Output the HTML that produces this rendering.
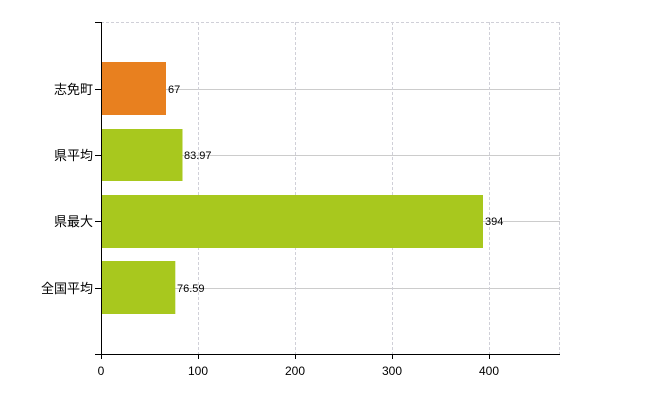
<!DOCTYPE html><html><head><style>body{margin:0;background:#fff;width:650px;height:400px;overflow:hidden;font-family:"Liberation Sans","Noto Sans CJK JP",sans-serif}</style></head><body>
<svg width="650" height="400" xmlns="http://www.w3.org/2000/svg">
<g stroke="#d0d0d8" stroke-width="1">
<line x1="101" y1="22.5" x2="560" y2="22.5" stroke-dasharray="3,2"/>
<line x1="101" y1="89.5" x2="560" y2="89.5" stroke="#ccc"/>
<line x1="101" y1="155.5" x2="560" y2="155.5" stroke="#ccc"/>
<line x1="101" y1="221.5" x2="560" y2="221.5" stroke="#ccc"/>
<line x1="101" y1="288.5" x2="560" y2="288.5" stroke="#ccc"/>
<line x1="198.5" y1="22" x2="198.5" y2="354" stroke-dasharray="3,2"/>
<line x1="295.5" y1="22" x2="295.5" y2="354" stroke-dasharray="3,2"/>
<line x1="392.5" y1="22" x2="392.5" y2="354" stroke-dasharray="3,2"/>
<line x1="489.5" y1="22" x2="489.5" y2="354" stroke-dasharray="3,2"/>
<line x1="559.5" y1="22" x2="559.5" y2="354" stroke-dasharray="3,2"/>
</g>
<rect x="101" y="62" width="65" height="53" fill="#e8801f"/>
<rect x="101" y="129" width="81.5" height="52" fill="#a8c81e"/>
<rect x="101" y="195" width="382" height="53" fill="#a8c81e"/>
<rect x="101" y="261" width="74.3" height="53" fill="#a8c81e"/>
<g font-size="11" fill="#000">
<text x="168" y="93">67</text>
<text x="184" y="159">83.97</text>
<text x="485" y="225">394</text>
<text x="177" y="292">76.59</text>
</g>
<g stroke="#000" stroke-width="1">
<line x1="101.5" y1="22" x2="101.5" y2="354"/>
<line x1="101" y1="354.5" x2="560" y2="354.5"/>
<line x1="95" y1="22.5" x2="101" y2="22.5"/>
<line x1="95" y1="89.5" x2="101" y2="89.5"/>
<line x1="95" y1="155.5" x2="101" y2="155.5"/>
<line x1="95" y1="221.5" x2="101" y2="221.5"/>
<line x1="95" y1="288.5" x2="101" y2="288.5"/>
<line x1="95" y1="354.5" x2="101" y2="354.5"/>
<line x1="101.5" y1="354" x2="101.5" y2="359"/>
<line x1="198.5" y1="354" x2="198.5" y2="359"/>
<line x1="295.5" y1="354" x2="295.5" y2="359"/>
<line x1="392.5" y1="354" x2="392.5" y2="359"/>
<line x1="489.5" y1="354" x2="489.5" y2="359"/>
</g>
<g font-size="13" fill="#000" text-anchor="end">
<text x="93" y="94">志免町</text>
<text x="93" y="160">県平均</text>
<text x="93" y="226">県最大</text>
<text x="93" y="293">全国平均</text>
</g>
<g font-size="12" fill="#000" text-anchor="middle">
<text x="101" y="375">0</text>
<text x="198" y="375">100</text>
<text x="295" y="375">200</text>
<text x="392" y="375">300</text>
<text x="489" y="375">400</text>
</g>
</svg></body></html>
